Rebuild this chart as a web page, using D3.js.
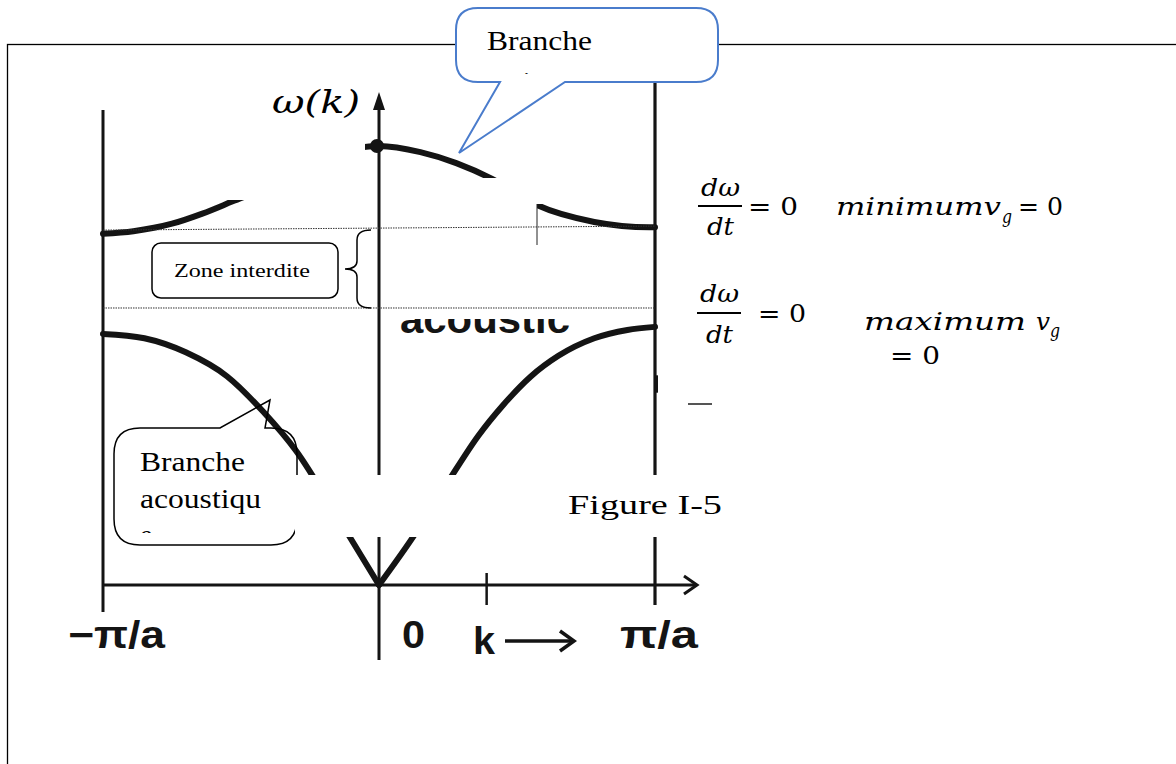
<!DOCTYPE html>
<html><head><meta charset="utf-8">
<script src="https://cdn.jsdelivr.net/npm/d3@7"></script>
<style>body{margin:0;background:#fff}svg{display:block}</style>
</head><body>
<svg id="c" width="1176" height="764"></svg>
<script>
// Wave vector k in units of pi/a, frequency omega in units of omega_max
const opticalK = [-1, -0.89, -0.75, -0.64, -0.53, -0.41, -0.28, -0.15, 0, 0.15, 0.28, 0.41, 0.57, 0.78, 0.98, 1];
const opticalW = [0.80, 0.806, 0.823, 0.846, 0.874, 0.905, 0.95, 0.985, 1.0, 0.986, 0.961, 0.925, 0.866, 0.827, 0.815, 0.815];
const acousticLeftK = [-1, -0.85, -0.7, -0.55, -0.42, -0.3, -0.15, 0];
const acousticLeftW = [0.572, 0.562, 0.53, 0.475, 0.395, 0.305, 0.155, 0];
const acousticRightK = [0, 0.123, 0.25, 0.36, 0.45, 0.55, 0.65, 0.78, 0.9, 1];
const acousticRightW = [0, 0.109, 0.235, 0.34, 0.41, 0.475, 0.522, 0.562, 0.581, 0.588];
const kTicks = [-1, 0, 1];
const kTickLabels = ["\u2212\u03c0/a", "0", "\u03c0/a"];
const kMarker = 0.39;
const gapLevels = [0.813, 0.631];

const svg = d3.select('#c');
const x = d3.scaleLinear().domain([-1, 1]).range([103, 655]);
const y = d3.scaleLinear().domain([0, 1]).range([585, 146]);
const ink = '#141414';
const sans = 'Liberation Sans, Arial, sans-serif';
const serif = 'Liberation Serif, Times New Roman, serif';

// page frame
svg.append('rect').attr('x', 7.5).attr('y', 44.5).attr('width', 1200).attr('height', 800)
  .attr('fill', 'none').attr('stroke', '#000').attr('stroke-width', 1.3);

const g = svg.append('g');

// zone boundaries and the omega axis
g.append('line').attr('x1', x(-1)).attr('x2', x(-1)).attr('y1', 110).attr('y2', 612)
  .attr('stroke', ink).attr('stroke-width', 3);
g.append('line').attr('x1', x(1)).attr('x2', x(1)).attr('y1', 78).attr('y2', 605)
  .attr('stroke', ink).attr('stroke-width', 3.2);
g.append('ellipse').attr('cx', x(1) + 2).attr('cy', 384).attr('rx', 3).attr('ry', 9).attr('fill', ink);
g.append('line').attr('x1', x(0)).attr('x2', x(0)).attr('y1', 100).attr('y2', 660)
  .attr('stroke', ink).attr('stroke-width', 3);
g.append('path').attr('d', `M${x(0)},92 L${x(0) - 6},110 L${x(0) + 6},110 Z`).attr('fill', ink);

// k axis
g.append('line').attr('x1', x(-1)).attr('x2', 697).attr('y1', y(0)).attr('y2', y(0))
  .attr('stroke', ink).attr('stroke-width', 3);
g.append('path').attr('d', `M684,${y(0) - 9} L697,${y(0)} L684,${y(0) + 9}`)
  .attr('fill', 'none').attr('stroke', ink).attr('stroke-width', 3);
g.append('line').attr('x1', x(kMarker)).attr('x2', x(kMarker)).attr('y1', y(0) - 12).attr('y2', y(0) + 20)
  .attr('stroke', ink).attr('stroke-width', 2.5);

// dispersion branches
const line = d3.line().x(d => x(d[0])).y(d => y(d[1])).curve(d3.curveMonotoneX);
const branch = (ks, ws) => ks.map((k, i) => [k, ws[i]]);
[branch(opticalK, opticalW), branch(acousticLeftK, acousticLeftW), branch(acousticRightK, acousticRightW)]
  .forEach(pts => g.append('path').attr('d', line(pts)).attr('fill', 'none')
    .attr('stroke', ink).attr('stroke-width', 6).attr('stroke-linecap', 'round'));
g.append('circle').attr('cx', x(0) - 2).attr('cy', y(1)).attr('r', 7).attr('fill', ink);

// residual label of the scan
g.append('text').attr('x', 400).attr('y', 333).attr('font-family', sans)
  .attr('font-weight', 'bold').attr('font-size', 40).attr('textLength', 170)
  .attr('lengthAdjust', 'spacingAndGlyphs').attr('fill', ink).text('acoustic');

// tick labels
const labX = [68, 402, 620];
const labW = [97, 23, 78];
kTicks.forEach((k, i) => g.append('text').attr('x', labX[i]).attr('y', 648)
  .attr('font-family', sans).attr('font-weight', 'bold').attr('font-size', 38)
  .attr('textLength', labW[i]).attr('lengthAdjust', 'spacingAndGlyphs')
  .attr('fill', ink).text(kTickLabels[i]));
g.append('text').attr('x', 473).attr('y', 654).attr('font-family', sans)
  .attr('font-weight', 'bold').attr('font-size', 38).attr('textLength', 22)
  .attr('lengthAdjust', 'spacingAndGlyphs').attr('fill', ink).text('k');
g.append('line').attr('x1', 505).attr('x2', 572).attr('y1', 641).attr('y2', 641).attr('stroke', ink).attr('stroke-width', 3.5);
g.append('path').attr('d', 'M560,631 L574,641 L560,651').attr('fill', 'none').attr('stroke', ink).attr('stroke-width', 3.5);

// acoustic branch callout (outline only)
function callout(x0, y0, x1, y1, r, edge, b1, b2, tx, ty) {
  let p = `M${x0 + r},${y0}`;
  if (edge === 'top') p += ` L${b1},${y0} L${tx},${ty} L${b2},${y0}`;
  p += ` L${x1 - r},${y0} Q${x1},${y0} ${x1},${y0 + r} L${x1},${y1 - r} Q${x1},${y1} ${x1 - r},${y1}`;
  if (edge === 'bottom') p += ` L${b2},${y1} L${tx},${ty} L${b1},${y1}`;
  p += ` L${x0 + r},${y1} Q${x0},${y1} ${x0},${y1 - r} L${x0},${y0 + r} Q${x0},${y0} ${x0 + r},${y0} Z`;
  return p;
}
svg.append('path').attr('d', callout(114, 428, 297, 545, 26, 'top', 220, 265, 270, 400))
  .attr('fill', 'none').attr('stroke', '#000').attr('stroke-width', 1.5);
const defs = svg.append('defs');
defs.append('clipPath').attr('id', 'clipA').append('rect').attr('x', 115).attr('y', 430).attr('width', 180).attr('height', 103);
const ta = svg.append('g').attr('clip-path', 'url(#clipA)')
  .attr('font-family', serif).attr('font-size', 28).attr('fill', '#000');
ta.append('text').attr('x', 140).attr('y', 471).attr('textLength', 105).attr('lengthAdjust', 'spacingAndGlyphs').text('Branche');
ta.append('text').attr('x', 140).attr('y', 508).attr('textLength', 121).attr('lengthAdjust', 'spacingAndGlyphs').text('acoustiqu');
ta.append('text').attr('x', 140).attr('y', 544).text('e');

// white patches pasted over the scan
const patches = [
  [130, 62, 235, 138],
  [387, 178, 185, 26],
  [387, 203, 150, 116],
  [537, 245, 45, 74],
  [295, 475, 440, 62],
  [658, 162, 80, 241],
  [262, 72, 100, 55]
];
patches.forEach(p => svg.append('rect').attr('x', p[0]).attr('y', p[1]).attr('width', p[2]).attr('height', p[3]).attr('fill', '#fff'));
svg.append('line').attr('x1', 537).attr('x2', 537).attr('y1', 204).attr('y2', 245).attr('stroke', '#222').attr('stroke-width', 1);
svg.append('line').attr('x1', 688).attr('x2', 712).attr('y1', 404).attr('y2', 404).attr('stroke', '#555').attr('stroke-width', 2);

// band gap limits
svg.append('line').attr('x1', x(-1)).attr('x2', x(1)).attr('y1', y(gapLevels[0]) + 2).attr('y2', y(gapLevels[0]) - 2)
  .attr('stroke', '#333').attr('stroke-width', 1).attr('stroke-dasharray', '1.5,1');
svg.append('line').attr('x1', x(-1)).attr('x2', x(1)).attr('y1', y(gapLevels[1])).attr('y2', y(gapLevels[1]))
  .attr('stroke', '#333').attr('stroke-width', 1).attr('stroke-dasharray', '1.5,1');

// forbidden band label and brace
svg.append('rect').attr('x', 152).attr('y', 243).attr('width', 186).attr('height', 55).attr('rx', 9)
  .attr('fill', '#fff').attr('stroke', '#000').attr('stroke-width', 1.5);
svg.append('text').attr('x', 174).attr('y', 277)
  .attr('font-family', serif).attr('font-size', 18).attr('textLength', 136).attr('lengthAdjust', 'spacingAndGlyphs').text('Zone interdite');
const yb0 = y(gapLevels[0]) + 2, yb1 = y(gapLevels[1]), ym = (yb0 + yb1) / 2;
svg.append('path').attr('d', `M371,${yb0} Q357,${yb0} 357,${yb0 + 10} L357,${ym - 8} Q357,${ym} 345,${ym} Q357,${ym} 357,${ym + 8} L357,${yb1 - 10} Q357,${yb1} 371,${yb1}`)
  .attr('fill', 'none').attr('stroke', '#000').attr('stroke-width', 1.5);

// figure caption
svg.append('text').attr('x', 568).attr('y', 514).attr('font-family', serif)
  .attr('font-size', 28).attr('textLength', 154).attr('lengthAdjust', 'spacingAndGlyphs').text('Figure I-5');

// omega axis title
svg.append('text').attr('x', 272).attr('y', 113).attr('font-family', 'DejaVu Serif, serif')
  .attr('font-style', 'italic').attr('font-size', 31).attr('textLength', 88)
  .attr('lengthAdjust', 'spacingAndGlyphs').text('\u03c9(k)');

// optical branch callout
svg.append('path').attr('d', callout(456, 8, 718, 82, 22, 'bottom', 500, 565, 459, 153))
  .attr('fill', '#fff').attr('stroke', '#4a7ccc').attr('stroke-width', 2);
defs.append('clipPath').attr('id', 'clipB').append('rect').attr('x', 460).attr('y', 10).attr('width', 255).attr('height', 64);
const tb = svg.append('g').attr('clip-path', 'url(#clipB)')
  .attr('font-family', serif).attr('font-size', 28).attr('fill', '#000');
tb.append('text').attr('x', 487).attr('y', 50).attr('textLength', 105).attr('lengthAdjust', 'spacingAndGlyphs').text('Branche');
tb.append('text').attr('x', 487).attr('y', 91).text('optique');

// group velocity notes
const eq = svg.append('g').attr('font-family', 'DejaVu Serif, serif').attr('fill', '#000');
function txt(x0, y0, s, size, w, italic) {
  const t = eq.append('text').attr('x', x0).attr('y', y0).attr('font-size', size).text(s);
  if (italic) t.attr('font-style', 'italic');
  if (w) t.attr('textLength', w).attr('lengthAdjust', 'spacingAndGlyphs');
  return t;
}
function frac(cx, yNum, yBar, yDen) {
  txt(cx - 19, yNum, 'd\u03c9', 25, 39, true);
  eq.append('line').attr('x1', cx - 22).attr('x2', cx + 22).attr('y1', yBar).attr('y2', yBar).attr('stroke', '#000').attr('stroke-width', 2);
  txt(cx - 13, yDen, 'dt', 25, 27, true);
}
frac(720, 196, 206, 235);
txt(748, 215, '= 0', 25, 50, false);
txt(836, 215, 'minimumv', 25, 165, true);
txt(1002, 223, 'g', 18, 10, true);
txt(1018, 215, '= 0', 25, 45, false);

frac(719, 302, 313, 343);
txt(758, 322, '= 0', 25, 48, false);
txt(864, 330, 'maximum', 25, 162, true);
txt(1036, 330, 'v', 25, 14, true);
txt(1050, 337, 'g', 18, 10, true);
txt(890, 364, '= 0', 25, 50, false);
</script>
</body></html>
